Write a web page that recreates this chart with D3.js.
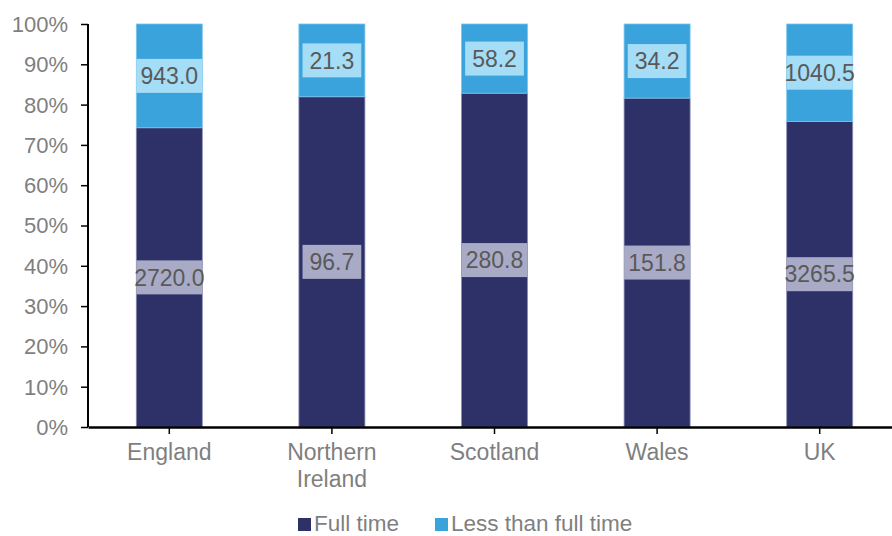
<!DOCTYPE html>
<html>
<head>
<meta charset="utf-8">
<script src="https://cdn.jsdelivr.net/npm/d3@7"></script>
<style>
  body { margin: 0; background: #fff; }
  text { font-family: "Liberation Sans", Arial, sans-serif; }
</style>
</head>
<body>
<svg id="chart" width="892" height="536"></svg>
<script>
var countries = ["England", "Northern Ireland", "Scotland", "Wales", "UK"];
var fullTime = [2720.0, 96.7, 280.8, 151.8, 3265.5];
var lessThanFullTime = [943.0, 21.3, 58.2, 34.2, 1040.5];
var seriesNames = ["Full time", "Less than full time"];
var yTicks = [0, 0.1, 0.2, 0.3, 0.4, 0.5, 0.6, 0.7, 0.8, 0.9, 1];

var colors = ["#2d3168", "#3aa3dc"];
var labelBg = ["#a9abc6", "#a5dcf6"];

var svg = d3.select("#chart"),
    margin = {left: 88, right: -9, top: 24, bottom: 109},
    width = +svg.attr("width") - margin.left - margin.right,
    height = +svg.attr("height") - margin.top - margin.bottom;

var g = svg.append("g").attr("transform", "translate(" + margin.left + "," + margin.top + ")");

var x = d3.scaleBand().domain(countries).range([0, width]).paddingInner(0.594).paddingOuter(0.297);
var y = d3.scaleLinear().domain([0, 1]).range([height, 0]);

// stacked shares
var rows = countries.map(function (c, i) {
    var total = fullTime[i] + lessThanFullTime[i];
    return {country: c, vals: [fullTime[i], lessThanFullTime[i]], total: total};
});
var segs = [];
rows.forEach(function (r) {
    var acc = 0;
    r.vals.forEach(function (v, k) {
        segs.push({country: r.country, k: k, v: v, y0: acc / r.total, y1: (acc + v) / r.total});
        acc += v;
    });
});

g.selectAll(".seg")
    .data(segs)
    .enter()
    .append("rect")
    .attr("class", "seg")
    .attr("x", function (d) { return x(d.country); })
    .attr("width", x.bandwidth())
    .attr("y", function (d) { return y(d.y1); })
    .attr("height", function (d) { return y(d.y0) - y(d.y1); })
    .attr("fill", function (d) { return colors[d.k]; })
    .attr("stroke", function (d) { return d.k == 0 ? "#8a8db5" : "#7cc4ec"; })
    .attr("stroke-width", 0.8);

// y axis
var yAxis = g.append("g")
    .call(d3.axisLeft(y).tickValues(yTicks).tickFormat(d3.format(".0%")).tickSize(7).tickPadding(13));
yAxis.select(".domain").attr("stroke", "#000").attr("stroke-width", 2).attr("d", "M0," + y(1) + "V" + y(0));
yAxis.selectAll(".tick line").attr("stroke", "#000").attr("stroke-width", 1.5);
yAxis.selectAll(".tick text").attr("fill", "#7f7f7f").style("font-size", "22px").attr("dy", "0.34em");

// x axis
var xAxis = g.append("g")
    .attr("transform", "translate(0," + height + ")")
    .call(d3.axisBottom(x).tickSize(7).tickSizeOuter(0).tickPadding(10));
xAxis.select(".domain").attr("stroke", "#000").attr("stroke-width", 2.5);
xAxis.selectAll(".tick line").attr("stroke", "#000").attr("stroke-width", 1.5);
xAxis.selectAll(".tick text")
    .attr("fill", "#7f7f7f")
    .style("font-size", "23px")
    .each(function (d) {
        var t = d3.select(this), words = d.split(" ");
        if (words.length > 1) {
            t.text(null);
            words.forEach(function (w, i) {
                t.append("tspan").attr("x", 0).attr("dy", i == 0 ? "0.71em" : "1.17em").text(w);
            });
        }
    });

// data labels
var lab = g.selectAll(".lab")
    .data(segs)
    .enter()
    .append("g")
    .attr("class", "lab")
    .attr("transform", function (d) {
        return "translate(" + (x(d.country) + x.bandwidth() / 2) + "," + y((d.y0 + d.y1) / 2) + ")";
    });
lab.append("rect").attr("fill", function (d) { return labelBg[d.k]; });
lab.append("text")
    .attr("text-anchor", "middle")
    .attr("dy", "0.36em")
    .attr("fill", "#595959")
    .style("font-size", "23px")
    .text(function (d) { return d3.format(".1f")(d.v); });
lab.each(function () {
    var l = d3.select(this);
    var tw = l.select("text").node().getComputedTextLength();
    var w = Math.min(tw + 14, x.bandwidth());
    l.select("rect").attr("x", -w / 2).attr("width", w).attr("y", -17).attr("height", 34);
});

// legend
var legend = svg.append("g").attr("transform", "translate(298,518)");
var lx = [0, 137];
seriesNames.forEach(function (s, i) {
    var it = legend.append("g").attr("transform", "translate(" + lx[i] + ",0)");
    it.append("rect").attr("width", 13).attr("height", 13).attr("fill", colors[i]);
    it.append("text").attr("x", 16).attr("y", 13).attr("fill", "#7f7f7f").style("font-size", "22.5px").text(s);
});
</script>
</body>
</html>
